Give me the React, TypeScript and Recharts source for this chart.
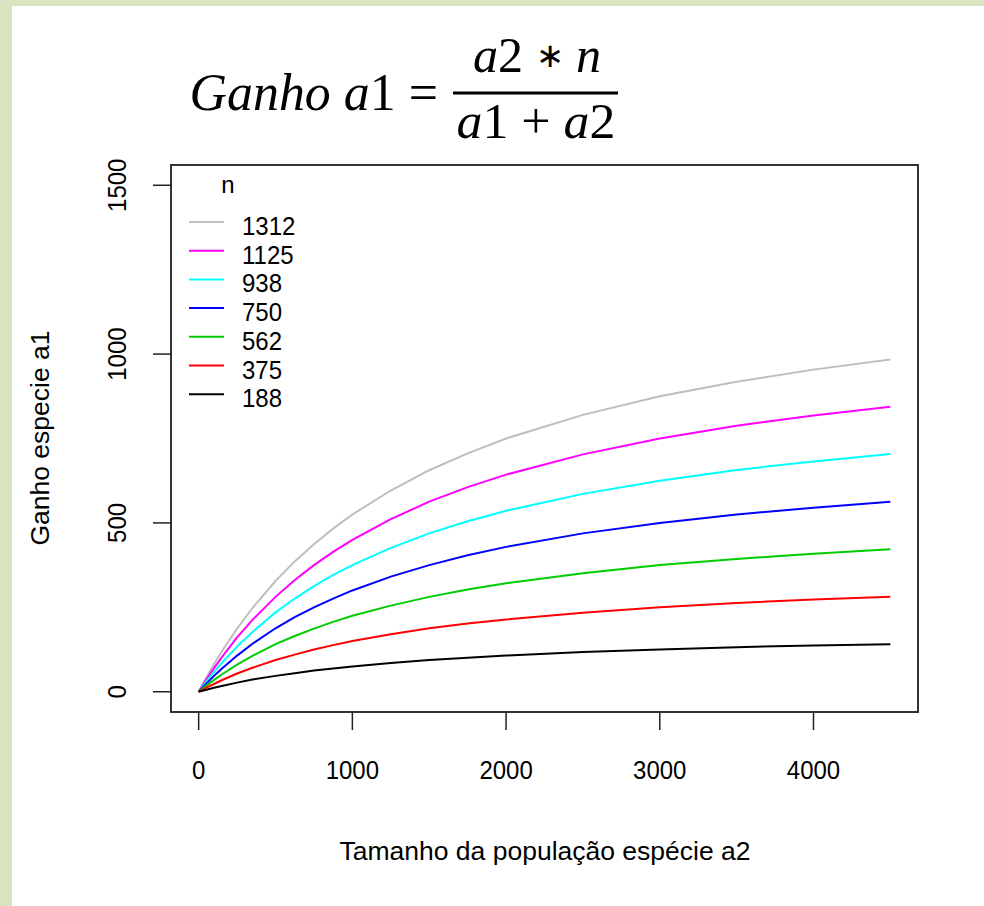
import React from 'react';
import { LineChart, Line, XAxis, YAxis, Legend, ReferenceArea } from 'recharts';

// tamanho da população a2 (eixo x)
const populacaoA2 = [0, 50, 100, 150, 250, 350, 500, 625, 750, 875, 1000, 1250, 1500, 1750, 2000, 2500, 3000, 3500, 4000, 4500];

// ganho a1, uma lista por n
const ganhoN1312 = [0, 42, 82, 119, 187, 248, 328, 386, 437, 483, 525, 596, 656, 706, 750, 820, 875, 918, 954, 984];
const ganhoN1125 = [0, 36, 70, 102, 161, 213, 281, 331, 375, 414, 450, 511, 563, 606, 643, 703, 750, 788, 818, 844];
const ganhoN938 = [0, 30, 59, 85, 134, 177, 235, 276, 313, 346, 375, 426, 469, 505, 536, 586, 625, 657, 682, 704];
const ganhoN750 = [0, 24, 47, 68, 107, 142, 188, 221, 250, 276, 300, 341, 375, 404, 429, 469, 500, 525, 545, 563];
const ganhoN562 = [0, 18, 35, 51, 80, 106, 141, 165, 187, 207, 225, 255, 281, 303, 321, 351, 375, 393, 409, 422];
const ganhoN375 = [0, 12, 23, 34, 54, 71, 94, 110, 125, 138, 150, 170, 188, 202, 214, 234, 250, 263, 273, 281];
const ganhoN188 = [0, 6, 12, 17, 27, 36, 47, 55, 63, 69, 75, 85, 94, 101, 107, 118, 125, 132, 137, 141];

const nLabels = ['1312', '1125', '938', '750', '562', '375', '188'];
const nValues = [ganhoN1312, ganhoN1125, ganhoN938, ganhoN750, ganhoN562, ganhoN375, ganhoN188];
const nColors = ['#bebebe', '#ff00ff', '#00ffff', '#0000ff', '#00cd00', '#ff0000', '#000000'];

const xTicks = [0, 1000, 2000, 3000, 4000];
const yTicks = [0, 500, 1000, 1500];

const data = populacaoA2.map((a2, i) => {
  const row: Record<string, number> = { a2 };
  nLabels.forEach((n, j) => {
    row['n' + n] = nValues[j][i];
  });
  return row;
});

const FONT = '"Liberation Sans", Arial, sans-serif';
const MATH = '"Liberation Serif", "Times New Roman", serif';

const XTick = (props: any) => (
  <text
    transform={`translate(${props.x},${props.y + 47}) scale(1,1.1)`}
    textAnchor="middle"
    fontFamily={FONT}
    fontSize={24}
    fill="#000"
  >
    {props.payload.value}
  </text>
);

const YTick = (props: any) => (
  <text
    transform={`translate(${props.x - 25},${props.y}) rotate(-90) scale(1,1.1)`}
    textAnchor="middle"
    fontFamily={FONT}
    fontSize={24}
    fill="#000"
  >
    {props.payload.value}
  </text>
);

const LegendBox = () => (
  <svg width={150} height={260} style={{ display: 'block' }}>
    <text x={58} y={28} textAnchor="middle" fontFamily={FONT} fontSize={24} fill="#000">
      n
    </text>
    {nLabels.map((n, i) => (
      <g key={n}>
        <line x1={19} x2={54} y1={57 + i * 28.7} y2={57 + i * 28.7} stroke={nColors[i]} strokeWidth={2} />
        <text
          transform={`translate(72,${70 + i * 28.7}) scale(1,1.08)`}
          fontFamily={FONT}
          fontSize={24}
          fill="#000"
        >
          {n}
        </text>
      </g>
    ))}
  </svg>
);

const App: React.FC = () => {
  return (
    <div style={{ position: 'absolute', left: 0, top: 0, width: 984, height: 906, background: '#d9e3bf' }}>
      <div style={{ position: 'absolute', left: 12, top: 6, right: 0, bottom: 0, background: '#ffffff' }} />

      <svg width={984} height={160} style={{ position: 'absolute', left: 0, top: 0 }}>
        <text transform="translate(438,110) scale(1.18,1.2)" textAnchor="end" fontFamily={MATH} fontSize={44} fill="#000">
          <tspan fontStyle="italic">Ganho a</tspan>
          <tspan>1 =</tspan>
        </text>
        <line x1={453} x2={618} y1={93} y2={93} stroke="#000" strokeWidth={3} />
        <text transform="translate(537,72) scale(1.14,1.15)" textAnchor="middle" fontFamily={MATH} fontSize={44} fill="#000">
          <tspan fontStyle="italic">a</tspan>
          <tspan>2 </tspan>
          <tspan fontSize={30} dy={-4}>∗</tspan>
          <tspan dy={4}> </tspan>
          <tspan fontStyle="italic">n</tspan>
        </text>
        <text transform="translate(536,138) scale(1.18,1.15)" textAnchor="middle" fontFamily={MATH} fontSize={44} fill="#000">
          <tspan fontStyle="italic">a</tspan>
          <tspan>1 + </tspan>
          <tspan fontStyle="italic">a</tspan>
          <tspan>2</tspan>
        </text>
      </svg>

      <div style={{ position: 'absolute', left: 0, top: 0 }}>
        <LineChart width={984} height={906} data={data} margin={{ top: 165, right: 66, bottom: 134, left: 111 }}>
          <XAxis
            dataKey="a2"
            type="number"
            domain={[-180, 4680]}
            ticks={xTicks}
            allowDataOverflow
            axisLine={false}
            tickSize={18}
            tickLine={{ stroke: '#222', strokeWidth: 1.5 }}
            height={60}
            tick={<XTick />}
          />
          <YAxis
            type="number"
            domain={[-60, 1560]}
            ticks={yTicks}
            allowDataOverflow
            axisLine={false}
            tickSize={18}
            tickLine={{ stroke: '#222', strokeWidth: 1.5 }}
            width={60}
            tick={<YTick />}
          />
          <ReferenceArea x1={-180} x2={4680} y1={-60} y2={1560} fill="none" stroke="#333" strokeWidth={2} />
          {nLabels.map((n, i) => (
            <Line
              key={n}
              dataKey={'n' + n}
              name={n}
              type="linear"
              stroke={nColors[i]}
              strokeWidth={2}
              dot={false}
              isAnimationActive={false}
            />
          ))}
          <Legend
            layout="horizontal"
            verticalAlign="middle"
            align="center"
            wrapperStyle={{ left: 170, top: 165, width: 150, height: 260 }}
            content={<LegendBox />}
          />
        </LineChart>
      </div>

      <div
        style={{
          position: 'absolute',
          left: 0,
          width: 984,
          top: 836,
          textAlign: 'center',
          paddingLeft: 106,
          boxSizing: 'border-box',
          fontFamily: FONT,
          fontSize: 26.5,
          lineHeight: '30px',
          color: '#000',
        }}
      >
        Tamanho da população espécie a2
      </div>
      <div
        style={{
          position: 'absolute',
          left: 40,
          top: 438,
          transform: 'translate(-50%, -50%) rotate(-90deg)',
          whiteSpace: 'nowrap',
          fontFamily: FONT,
          fontSize: 26.5,
          lineHeight: '30px',
          color: '#000',
        }}
      >
        Ganho especie a1
      </div>
    </div>
  );
};

export default App;
